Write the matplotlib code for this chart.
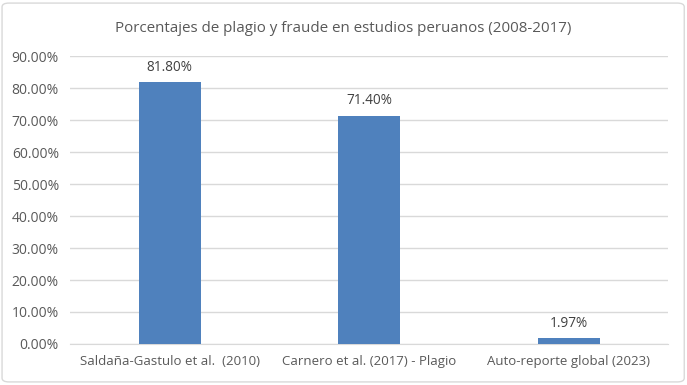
import matplotlib

matplotlib.use("Agg")
import matplotlib.pyplot as plt
from matplotlib.patches import FancyBboxPatch
from matplotlib.ticker import FuncFormatter, MultipleLocator

categories = ["Saldaña-Gastulo et al.  (2010)", "Carnero et al. (2017) - Plagio", "Auto-reporte global (2023)"]
values = [81.80, 71.40, 1.97]
labels = ["81.80%", "71.40%", "1.97%"]
title = "Porcentajes de plagio y fraude en estudios peruanos (2008-2017)"

BAR = "#4f81bd"
TXT = "#595959"
GRID = "#d9d9d9"

plt.rcParams["font.family"] = ["Open Sans", "DejaVu Sans"]

fig = plt.figure(figsize=(6.87, 3.85), dpi=100)
border = FancyBboxPatch((0.003, 0.008), 0.993, 0.984, boxstyle="round,pad=0,rounding_size=0.01",
                        transform=fig.transFigure, facecolor="white", edgecolor="#d9d9d9", lw=1, zorder=-5)
fig.patches.append(border)
ax = fig.add_axes([0.102, 0.1065, 0.871, 0.748])
ax.set_facecolor("none")

x = range(len(categories))
ax.bar(x, values, width=0.31, color=BAR, zorder=3)
for xi, v, lab in zip(x, values, labels):
    ax.text(xi, v + 2.2, lab, ha="center", va="bottom", fontsize=9.8, color="#404040")

ax.set_xlim(-0.5, 2.5)
ax.set_ylim(0, 90)
ax.yaxis.set_major_locator(MultipleLocator(10))
ax.yaxis.set_major_formatter(FuncFormatter(lambda v, _: f"{v:.2f}%"))
ax.grid(axis="y", color=GRID, lw=1, zorder=0)
ax.set_xticks(list(x))
ax.set_xticklabels(categories)
ax.tick_params(axis="both", length=0, labelcolor=TXT)
ax.tick_params(axis="x", pad=8, labelsize=9.5)
ax.tick_params(axis="y", pad=8, labelsize=10)
for s in ["top", "right", "left"]:
    ax.spines[s].set_visible(False)
ax.spines["bottom"].set_color(GRID)

fig.text(0.5, 0.925, title, ha="center", va="center", fontsize=10.9, color=TXT)

fig.savefig("out.png", dpi=100)
